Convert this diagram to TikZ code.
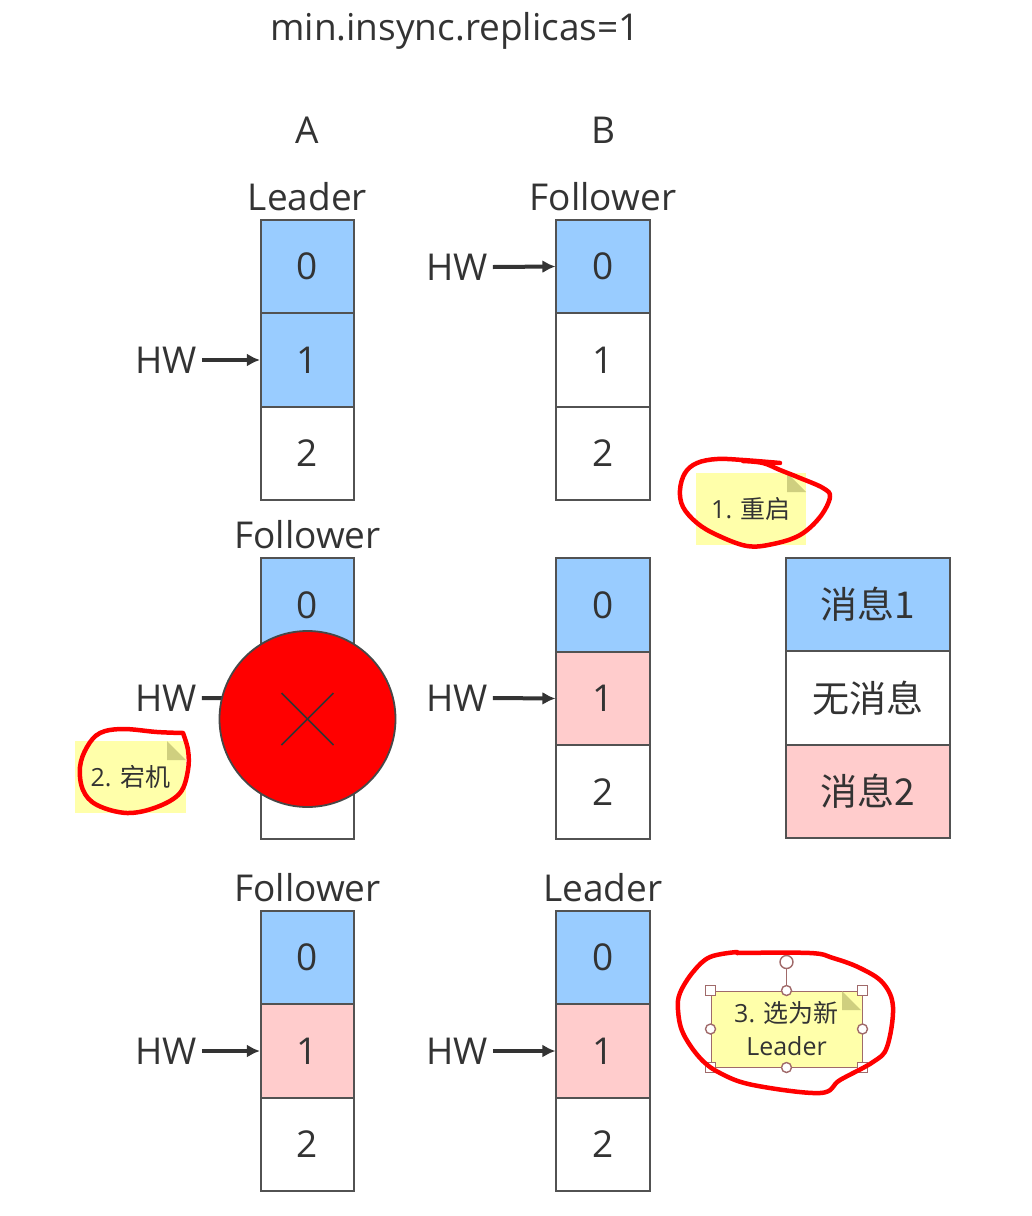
\documentclass[tikz,border=0pt]{standalone}
\usepackage{fontspec}
\setmainfont{Open Sans}
\newfontfamily\cjk{Noto Sans CJK SC}
\usepackage{tikz}
\usetikzlibrary{positioning, shapes.geometric, arrows, calc, arrows.meta}
\definecolor{msgone}{HTML}{99CCFF}
\definecolor{msgtwo}{HTML}{FFCCCC}
\definecolor{inktext}{HTML}{333333}
\definecolor{notefill}{HTML}{FFFFAA}
\definecolor{notefold}{HTML}{CFCF7F}
\definecolor{handle}{HTML}{A06A6A}
\tikzstyle{cell} = [rectangle, draw=inktext!85, line width=1.6pt, fill=white, text=inktext,
    minimum width=93.5pt, minimum height=93.5pt, inner sep=0pt, font=\fontsize{37}{40}\selectfont]
\tikzstyle{blue} = [cell, fill=msgone]
\tikzstyle{pink} = [cell, fill=msgtwo]
\tikzstyle{legend} = [cell, minimum width=164pt]
\tikzstyle{label} = [text=inktext, inner sep=0pt, font=\fontsize{37}{40}\selectfont]
\tikzstyle{hwarrow} = [-{Latex[length=13pt,width=13pt]}, line width=4pt, draw=inktext]
\tikzstyle{note} = [rectangle, fill=notefill, inner sep=0pt, text=inktext, align=center,
    font=\fontsize{25}{33}\selectfont]
\tikzstyle{fold} = [fill=notefold]
\tikzstyle{redink} = [draw=red, line width=4.5pt, line join=round, line cap=round]
\tikzstyle{squarehandle} = [rectangle, draw=handle, line width=1.4pt, fill=white, minimum size=10pt, inner sep=0pt]
\tikzstyle{roundhandle} = [circle, draw=handle, line width=1.4pt, fill=white, minimum size=10pt, inner sep=0pt]
\begin{document}
\begin{tikzpicture}[x=1pt, y=-1pt, node distance=93.5pt]
    \useasboundingbox (0,0) rectangle (1032,1216);
    % Titles
    \node [label] (title) at (455,31) {min.insync.replicas=1};
    \node [label] (colA) at (307.5,130) {A};
    \node [label] (colB) at (603,130) {B};

    % First row
    \node [blue] (a0) at (307.5,266.5) {0};
    \node [blue, below of=a0] (a1) {1};
    \node [cell, below of=a1] (a2) {2};
    \node [blue] (b0) at (603,266.5) {0};
    \node [cell, below of=b0] (b1) {1};
    \node [cell, below of=b1] (b2) {2};
    \node [label] (aRole) at (307.5,197) {Leader};
    \node [label] (bRole) at (603,197) {Follower};
    \node [label] (aHw) at (166,360) {HW};
    \node [label] (bHw) at (457,267) {HW};

    % Second row
    \node [blue] (c0) at (307.5,605) {0};
    \node [pink, below of=c0] (c1) {1};
    \node [cell, below of=c1] (c2) {2};
    \node [blue] (d0) at (603,605) {0};
    \node [pink, below of=d0] (d1) {1};
    \node [cell, below of=d1] (d2) {2};
    \node [label] (cRole) at (307.5,535) {Follower};
    \node [label] (cHw) at (166,698) {HW};
    \node [label] (dHw) at (457,698) {HW};

    % Third row
    \node [blue] (e0) at (307.5,957.5) {0};
    \node [pink, below of=e0] (e1) {1};
    \node [cell, below of=e1] (e2) {2};
    \node [blue] (f0) at (603,957.5) {0};
    \node [pink, below of=f0] (f1) {1};
    \node [cell, below of=f1] (f2) {2};
    \node [label] (eRole) at (307.5,888) {Follower};
    \node [label] (fRole) at (603,888) {Leader};
    \node [label] (eHw) at (166,1051) {HW};
    \node [label] (fHw) at (457,1051) {HW};

    % Legend
    \node [legend, fill=msgone] (msgA) at (868,604.5) {\cjk 消息1};
    \node [legend, below of=msgA] (msgB) {\cjk 无消息};
    \node [legend, fill=msgtwo, below of=msgB] (msgC) {\cjk 消息2};

    % Connections
    \draw [hwarrow] (aHw.east) ++(5,0) -- (a1.west);
    \draw [hwarrow] (bHw.east) ++(5,0) -- (b0.west);
    \draw [hwarrow] (cHw.east) ++(5,0) -- (c1.west);
    \draw [hwarrow] (dHw.east) ++(5,0) -- (d1.west);
    \draw [hwarrow] (eHw.east) ++(5,0) -- (e1.west);
    \draw [hwarrow] (fHw.east) ++(5,0) -- (f1.west);

    % Crashed broker
    \node [circle, draw=inktext!90, line width=1.8pt, fill=red, minimum size=176pt, inner sep=0pt] (crash) at (307.5,719) {};
    \draw [draw=inktext, line width=1.6pt] ([shift={(-26,-26)}]crash.center) -- ([shift={(26,26)}]crash.center);
    \draw [draw=inktext, line width=1.6pt] ([shift={(-26,26)}]crash.center) -- ([shift={(26,-26)}]crash.center);

    % Notes
    \node [note, minimum width=110pt, minimum height=72pt] (noteA) at (751,509) {1. {\cjk 重启}};
    \fill [fold] (787,473) -- (806,492) -- (787,492) -- cycle;
    \node [note, minimum width=111pt, minimum height=72pt] (noteB) at (130.5,777) {2. {\cjk 宕机}};
    \fill [fold] (167,741) -- (186,760) -- (167,760) -- cycle;
    \node [note, draw=handle, line width=1pt, minimum width=151pt, minimum height=76pt] (noteC) at (786.5,1029) {3. {\cjk 选为新}\\Leader};
    \fill [fold] (842,991) -- (861,1010) -- (842,1010) -- cycle;

    % Selection handles
    \node [roundhandle, minimum size=13pt] (turn) at (786.5,962) {};
    \draw [draw=handle, line width=1.4pt] (turn) -- (noteC.north);
    \node [squarehandle] at (noteC.north west) {};
    \node [squarehandle] at (noteC.north east) {};
    \node [squarehandle] at (noteC.south west) {};
    \node [squarehandle] at (noteC.south east) {};
    \node [roundhandle] at (noteC.north) {};
    \node [roundhandle] at (noteC.south) {};
    \node [roundhandle] at (noteC.west) {};
    \node [roundhandle] at (noteC.east) {};

    % Red pen marks
    \draw [redink] plot [smooth, tension=0.6] coordinates {(780,463) (743,460) (717,459) (697,463) (685,473) (680,490) (683,507) (697,523) (717,535) (747,546) (773,544) (800,535) (820,517) (830,497) (823,488) (800,478) (780,470) (763,463) (743,461)};
    \draw [redink] plot [smooth, tension=0.6] coordinates {(183,733) (157,732) (123,729) (100,733) (87,747) (80,767) (83,790) (97,805) (127,813) (157,807) (180,793) (188,770) (188,750) (183,733)};
    \draw [redink] plot [smooth, tension=0.6] coordinates {(737,952) (710,957) (693,972) (680,993) (678,1010) (683,1033) (700,1058) (720,1073) (753,1085) (820,1093) (840,1080) (873,1062) (887,1047) (893,1007) (883,983) (860,968) (833,958) (810,953) (737,953)};
\end{tikzpicture}
\end{document}
